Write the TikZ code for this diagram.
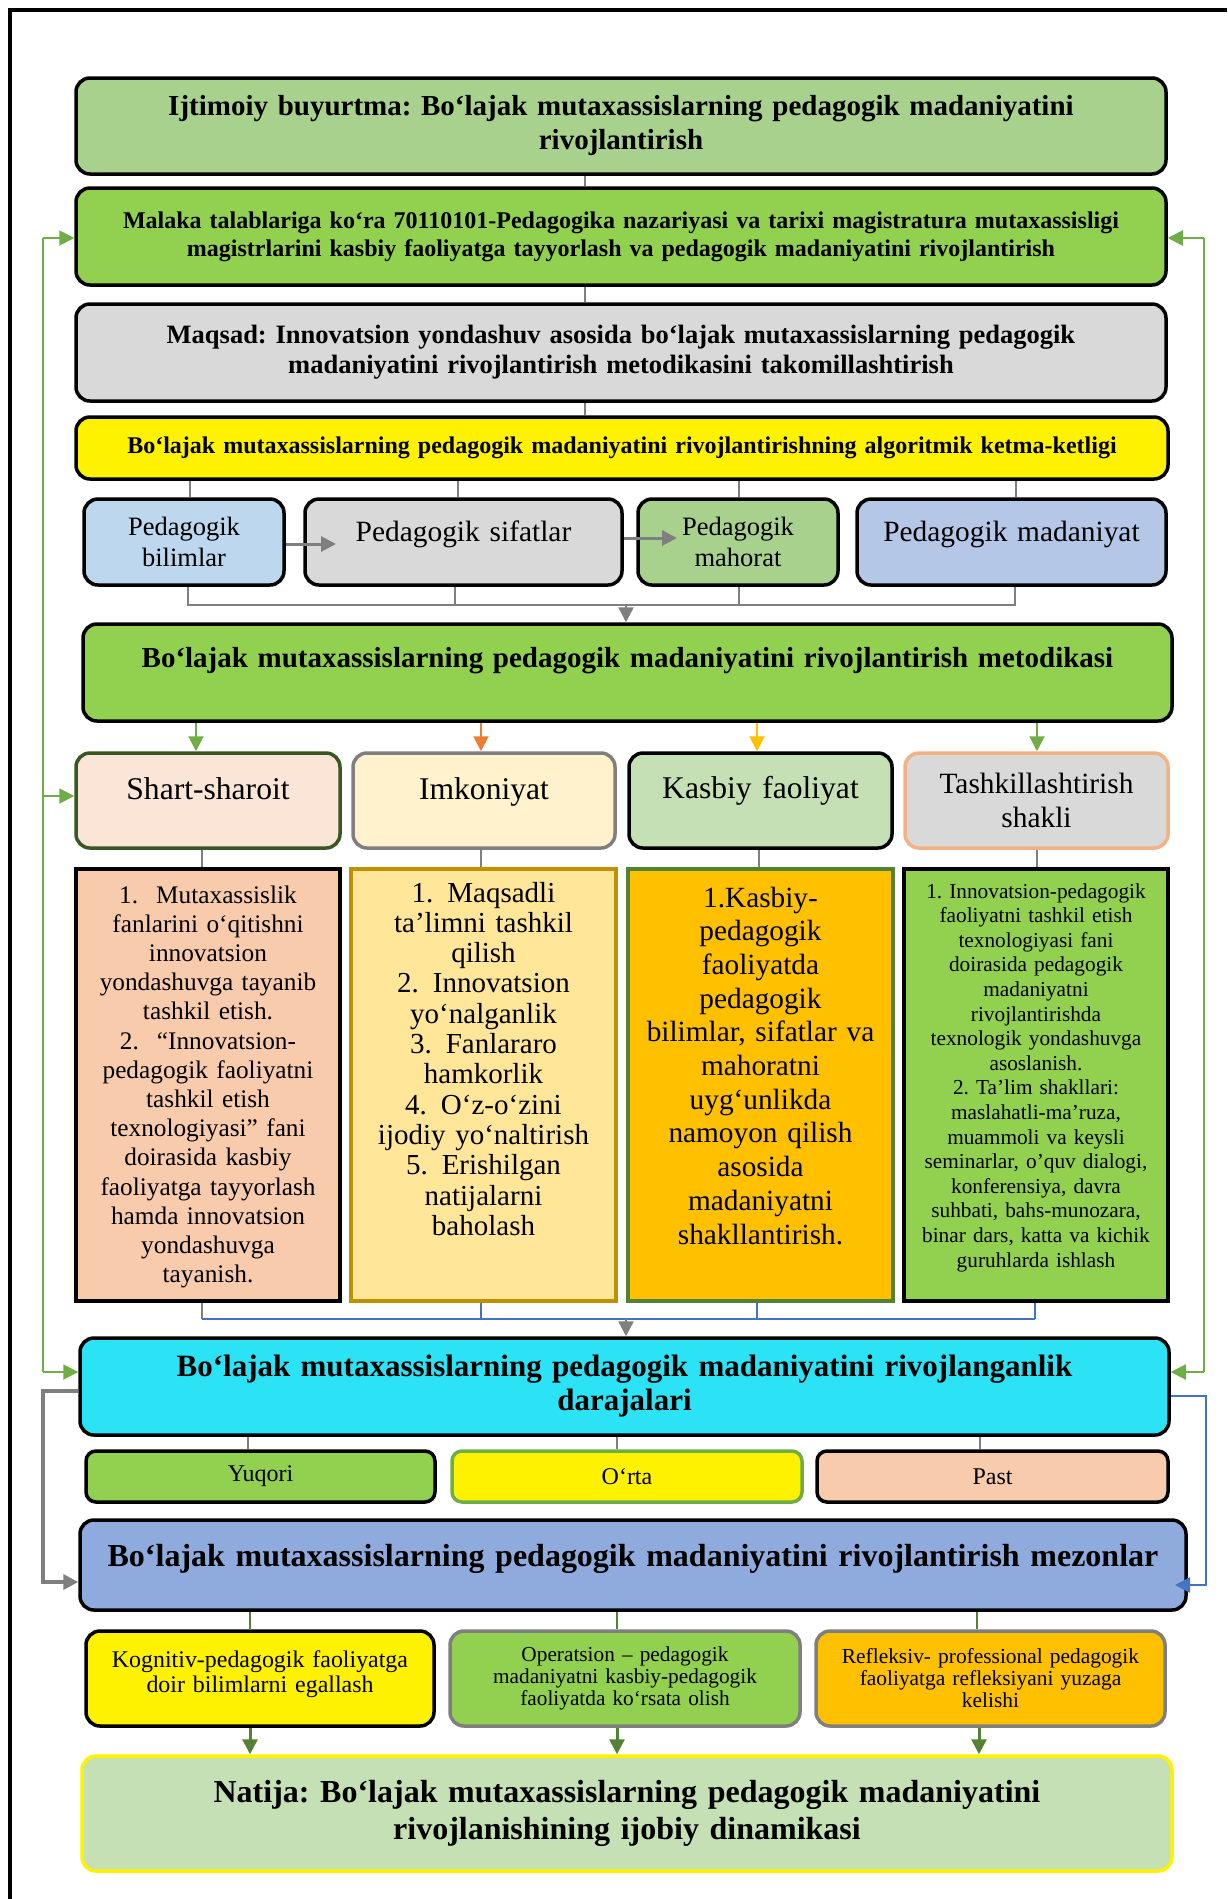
\documentclass[tikz,border=0pt]{standalone}
\usepackage{fontspec}
\setmainfont{Liberation Serif}
\usepackage{tikz}
\usetikzlibrary{arrows.meta,positioning,calc}
\frenchspacing

\definecolor{gA}{HTML}{A9D18E}
\definecolor{gB}{HTML}{92D050}
\definecolor{gC}{HTML}{C5E0B4}
\definecolor{gryF}{HTML}{D9D9D9}
\definecolor{blueA}{HTML}{BDD7EE}
\definecolor{blueB}{HTML}{B4C7E7}
\definecolor{blueC}{HTML}{8FAADC}
\definecolor{cyanA}{HTML}{2BE3F4}
\definecolor{peach}{HTML}{F8CBAD}
\definecolor{peachL}{HTML}{FBE5D6}
\definecolor{creamL}{HTML}{FFF2CC}
\definecolor{cream}{HTML}{FFE699}
\definecolor{gold}{HTML}{FFC000}
\definecolor{goldD}{HTML}{BF9000}
\definecolor{grnD}{HTML}{385723}
\definecolor{grnM}{HTML}{548235}
\definecolor{grnL}{HTML}{70AD47}
\definecolor{orng}{HTML}{ED7D31}
\definecolor{orngL}{HTML}{F4B183}
\definecolor{lnG}{HTML}{7F7F7F}
\definecolor{lnB}{HTML}{4472C4}
\newcommand{\fsz}[2]{\fontsize{#1}{#2}\selectfont}

\begin{document}
\begin{tikzpicture}[x=1pt,y=-1pt,
  box/.style={rectangle,rounded corners=14pt,draw=black,line width=3.5pt,inner sep=0pt,align=center},
  lst/.style={rectangle,draw=black,line width=3.5pt,inner sep=0pt,align=center},
  ln/.style={draw=lnG,line width=2.5pt},
  bl/.style={draw=lnB,line width=2.5pt},
  gl/.style={draw=grnM,line width=2.5pt},
  sd/.style={draw=grnL,line width=2pt},
  arr/.style={-{Triangle[length=15pt,width=15pt]}}]
\useasboundingbox (0,0) rectangle (1227,1899);
\draw[line width=4pt] (10,1899) -- (10,10) -- (1227,10);

% top chain
\node[box,fill=gA,minimum width=1090,minimum height=96,text width=1070,font=\fsz{29}{34}\bfseries] (ijt) at (621,126)
  {Ijtimoiy buyurtma: Bo‘lajak mutaxassislarning pedagogik madaniyatini\\ rivojlantirish};
\node[box,fill=gB,minimum width=1090,minimum height=97,text width=1070,font=\fsz{24}{28}\bfseries] (mal) at (621,236.5)
  {Malaka talablariga ko`ra 70110101-Pedagogika nazariyasi va tarixi magistratura mutaxassisligi\\ magistrlarini kasbiy faoliyatga tayyorlash va pedagogik madaniyatini rivojlantirish};
\node[box,fill=gryF,minimum width=1090,minimum height=97,text width=1070,font=\fsz{26.5}{30}\bfseries] (maq) at (621,352.5)
  {Maqsad: Innovatsion yondashuv asosida bo‘lajak mutaxassislarning pedagogik\\ madaniyatini  rivojlantirish metodikasini takomillashtirish};
\node[box,fill=yellow,minimum width=1092,minimum height=62,text width=1070,font=\fsz{24}{28}\bfseries] (alg) at (622,448)
  {Bo‘lajak mutaxassislarning pedagogik madaniyatini  rivojlantirishning algoritmik ketma-ketligi};

% algorithm steps
\node[box,fill=blueA,minimum width=200,minimum height=86,text width=190,font=\fsz{26.5}{31}] (bil) at (184,542) {Pedagogik\\ bilimlar};
\node[box,fill=gryF,minimum width=317,minimum height=86,text width=300,text height=42,text depth=44,font=\fsz{29.4}{34}] (sif) at (463.5,542) {Pedagogik sifatlar};
\node[box,fill=gA,minimum width=200,minimum height=86,text width=190,font=\fsz{26.5}{31}] (mah) at (738,542) {Pedagogik\\ mahorat};
\node[box,fill=blueB,minimum width=309,minimum height=86,text width=300,text height=42,text depth=44,font=\fsz{29.4}{34}] (mad) at (1011.5,542) {Pedagogik madaniyat};

\node[box,fill=gB,minimum width=1089,minimum height=97,text width=1070,text height=43,text depth=54,font=\fsz{29}{34}\bfseries] (met) at (627.5,672.5)
  {Bo‘lajak mutaxassislarning pedagogik madaniyatini  rivojlantirish metodikasi};

% components
\node[box,draw=grnD,fill=peachL,minimum width=264,minimum height=95,text width=250,text height=46.5,text depth=48.5,font=\fsz{31.6}{36}] (shr) at (208,800.5) {Shart-sharoit};
\node[box,draw=lnG,fill=creamL,minimum width=262,minimum height=95,text width=250,text height=46.5,text depth=48.5,font=\fsz{31.6}{36}] (imk) at (484,800.5) {Imkoniyat};
\node[box,fill=gC,minimum width=263,minimum height=95,text width=250,text height=45,text depth=50,font=\fsz{31.6}{36}] (ksb) at (760.5,800.5) {Kasbiy faoliyat};
\node[box,draw=orngL,fill=gryF,minimum width=263,minimum height=95,text width=250,font=\fsz{29.4}{34}] (tsh) at (1036.5,800.5) {Tashkillashtirish\\ shakli};

\node[lst,fill=peach,minimum width=264,minimum height=432,text width=255,text height=34,text depth=398,font=\fsz{25.3}{29.2}] (shrL) at (208,1085)
  {1.\hspace{18pt}Mutaxassislik\\ fanlarini o‘qitishni\\ innovatsion\\ yondashuvga tayanib\\ tashkil etish.\\
   2.\hspace{18pt}“Innovatsion-\\ pedagogik faoliyatni\\ tashkil etish\\ texnologiyasi” fani\\ doirasida kasbiy\\
   faoliyatga tayyorlash\\ hamda innovatsion\\ yondashuvga\\ tayanish.};
\node[lst,draw=goldD,fill=cream,minimum width=265,minimum height=432,text width=255,text height=33,text depth=399,font=\fsz{29}{30.3}] (imkL) at (483.5,1085)
  {1.\hspace{14pt}Maqsadli\\ ta’limni tashkil\\ qilish\\ 2.\hspace{14pt}Innovatsion\\ yo‘nalganlik\\ 3.\hspace{14pt}Fanlararo\\ hamkorlik\\
   4.\hspace{14pt}O‘z-o‘zini\\ ijodiy yo‘naltirish\\ 5.\hspace{14pt}Erishilgan\\ natijalarni\\ baholash};
\node[lst,draw=grnM,fill=gold,minimum width=265,minimum height=432,text width=255,text height=38,text depth=394,font=\fsz{29.3}{33.7}] (ksbL) at (760.5,1085)
  {1.Kasbiy-\\ pedagogik\\ faoliyatda\\ pedagogik\\ bilimlar, sifatlar va\\ mahoratni\\ uyg‘unlikda\\ namoyon qilish\\
   asosida\\ madaniyatni\\ shakllantirish.};
\node[lst,fill=gB,minimum width=264,minimum height=432,text width=255,text height=29,text depth=403,font=\fsz{21.3}{24.6}] (tshL) at (1036,1085)
  {1. Innovatsion-pedagogik\\ faoliyatni tashkil etish\\ texnologiyasi fani\\ doirasida pedagogik\\ madaniyatni\\ rivojlantirishda\\
   texnologik yondashuvga\\ asoslanish.\\ 2. Ta’lim shakllari:\\ maslahatli-ma’ruza,\\ muammoli va keysli\\
   seminarlar, o’quv dialogi,\\ konferensiya, davra\\ suhbati, bahs-munozara,\\ binar dars, katta va kichik\\ guruhlarda ishlash};

% levels
\node[box,fill=cyanA,minimum width=1089,minimum height=97,text width=1070,font=\fsz{31}{34}\bfseries] (lev) at (624.5,1386.5)
  {Bo‘lajak mutaxassislarning pedagogik madaniyatini  rivojlanganlik\\ darajalari};
\node[box,rounded corners=10pt,fill=gB,minimum width=349,minimum height=51,text width=330,font=\fsz{24}{28}] (yuq) at (260.5,1476.5) {Yuqori};
\node[box,rounded corners=10pt,draw=grnL,fill=yellow,minimum width=350,minimum height=51,text width=330,font=\fsz{24}{28}] (ort) at (627,1476.5) {O‘rta};
\node[box,rounded corners=10pt,fill=peach,minimum width=351,minimum height=51,text width=330,font=\fsz{24}{28}] (pas) at (992.5,1476.5) {Past};

% criteria
\node[box,fill=blueC,minimum width=1106,minimum height=90,text width=1090,text height=46.6,text depth=43.4,font=\fsz{32}{37}\bfseries] (mez) at (633,1565)
  {Bo‘lajak mutaxassislarning pedagogik madaniyatini  rivojlantirish mezonlar};
\node[box,fill=yellow,minimum width=348,minimum height=95,text width=335,text height=36,text depth=59,font=\fsz{23.9}{25.4}] (kog) at (260,1678.5)
  {Kognitiv-pedagogik faoliyatga\\ doir bilimlarni egallash};
\node[box,draw=lnG,fill=gB,minimum width=350,minimum height=95,text width=335,font=\fsz{21.3}{22}] (ope) at (625,1678.5)
  {Operatsion – pedagogik\\ madaniyatni kasbiy-pedagogik\\ faoliyatda ko‘rsata olish};
\node[box,draw=lnG,fill=gold,minimum width=349,minimum height=95,text width=335,font=\fsz{21.4}{22}] (ref) at (990.5,1678.5)
  {Refleksiv- professional pedagogik\\ faoliyatga refleksiyani yuzaga\\ kelishi};

\node[box,draw=yellow,fill=gC,minimum width=1090,minimum height=115,text width=1070,font=\fsz{32}{37}\bfseries] (nat) at (627,1813.5)
  {Natija: Bo‘lajak mutaxassislarning pedagogik madaniyatini\\ rivojlanishining ijobiy dinamikasi};

% connectors
\draw[ln] (585,0 |- ijt.south) -- (585,0 |- mal.north); \draw[ln] (585,0 |- mal.south) -- (585,0 |- maq.north);
\draw[ln] (585,0 |- maq.south) -- (585,0 |- alg.north);
\draw[ln] (190,0 |- alg.south) -- (190,0 |- bil.north); \draw[ln] (458,0 |- alg.south) -- (458,0 |- sif.north);
\draw[ln] (739,0 |- alg.south) -- (739,0 |- mah.north); \draw[ln] (1016,0 |- alg.south) -- (1016,0 |- mad.north);
\coordinate (sfin) at (336,544); \coordinate (mfin) at (677,538);
\draw[ln,line width=3pt,arr] (bil.east |- sfin) -- (sfin); \draw[ln,line width=3pt,arr] (sif.east |- mfin) -- (mfin);
\coordinate (busA) at (626,605);
\draw[ln] (188,0 |- bil.south) -- (188,0 |- busA) -- (1015,0 |- busA) -- (1015,0 |- mad.south);
\draw[ln] (455,0 |- sif.south) -- (455,0 |- busA); \draw[ln] (739,0 |- mah.south) -- (739,0 |- busA);
\draw[ln,arr] (busA) -- (busA |- met.north);
\draw[sd,draw=grnL,arr] (196,0 |- met.south) -- (196,0 |- shr.north); \draw[sd,draw=orng,arr] (481,0 |- met.south) -- (481,0 |- imk.north);
\draw[sd,draw=gold,arr] (757,0 |- met.south) -- (757,0 |- ksb.north); \draw[sd,draw=grnL,arr] (1037,0 |- met.south) -- (1037,0 |- tsh.north);
\draw[ln] (202,0 |- shr.south) -- (202,0 |- shrL.north); \draw[ln] (481,0 |- imk.south) -- (481,0 |- imkL.north);
\draw[ln] (759,0 |- ksb.south) -- (759,0 |- ksbL.north); \draw[ln] (1037,0 |- tsh.south) -- (1037,0 |- tshL.north);
\coordinate (busB) at (626,1319);
\draw[ln] (202,0 |- shrL.south) -- (202,0 |- busB); \draw[bl] (202,0 |- busB) -- (1035,0 |- busB);
\draw[bl] (481,0 |- imkL.south) -- (481,0 |- busB); \draw[bl] (757,0 |- ksbL.south) -- (757,0 |- busB);
\draw[bl] (1035,0 |- tshL.south) -- (1035,0 |- busB);
\draw[ln,arr] (busB) -- (busB |- lev.north);
\draw[ln] (248,0 |- lev.south) -- (248,0 |- yuq.north); \draw[ln] (617,0 |- lev.south) -- (617,0 |- ort.north);
\draw[ln] (980,0 |- lev.south) -- (980,0 |- pas.north);
\draw[gl] (250,0 |- mez.south) -- (250,0 |- kog.north); \draw[gl] (617,0 |- mez.south) -- (617,0 |- ope.north);
\draw[gl] (977,0 |- mez.south) -- (977,0 |- ref.north);
\draw[gl,line width=3pt,arr] (250,0 |- kog.south) -- (250,0 |- nat.north); \draw[gl,line width=3pt,arr] (617,0 |- ope.south) -- (617,0 |- nat.north);
\draw[gl,line width=3pt,arr] (979,0 |- ref.south) -- (979,0 |- nat.north);

% feedback loops
\coordinate (l1) at (43,238); \coordinate (l2) at (43,796); \coordinate (l3) at (43,1372);
\draw[sd] (l1) -- (l3);
\draw[sd,arr] (l1) -- (l1 -| mal.west); \draw[sd,arr] (l2) -- (l2 -| shr.west); \draw[sd,arr] (l3) -- (l3 -| lev.west);
\coordinate (r1) at (1204,238); \coordinate (r3) at (1204,1372);
\draw[sd] (r1) -- (r3);
\draw[sd,arr] (r1) -- (r1 -| mal.east); \draw[sd,arr] (r3) -- (r3 -| lev.east);
\coordinate (g1) at (43,1391); \coordinate (g2) at (43,1582);
\draw[ln,line width=4pt,arr] (g1 -| lev.west) -- (g1) -- (g2) -- (g2 -| mez.west);
\coordinate (b1) at (1206,1396); \coordinate (b2) at (1206,1585); \coordinate (b3) at (1175,1585);
\draw[bl,arr] (b1 -| lev.east) -- (b1) -- (b2) -- (b3);
\end{tikzpicture}
\end{document}
